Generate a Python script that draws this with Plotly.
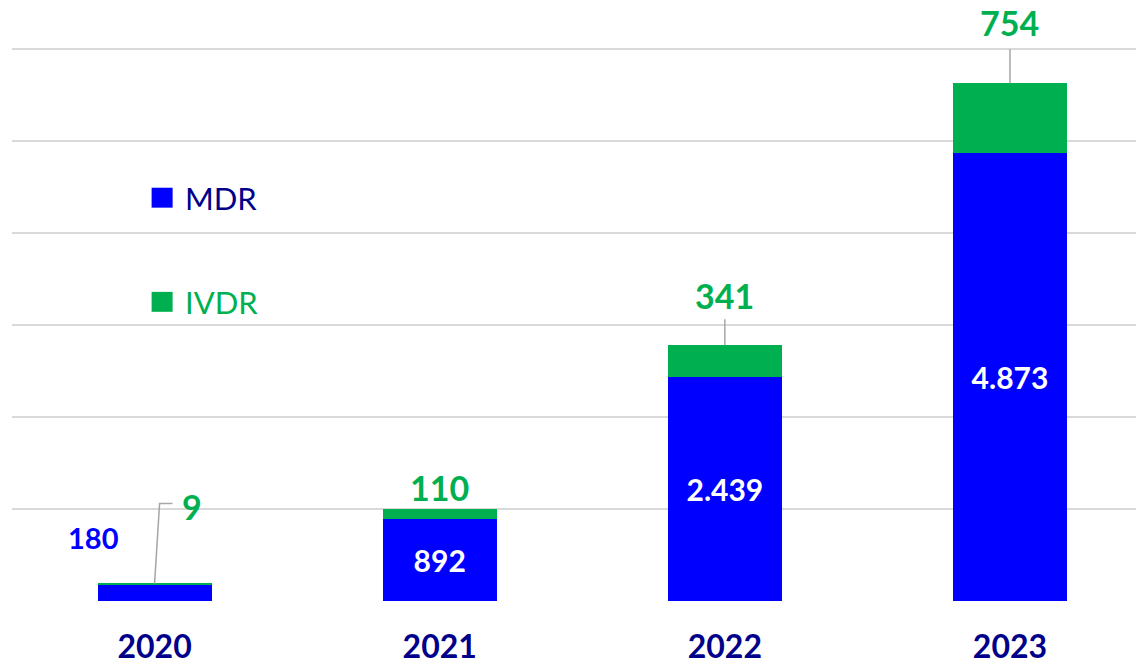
import plotly.graph_objects as go

years = ["2020", "2021", "2022", "2023"]
mdr = [180, 892, 2439, 4873]
ivdr = [9, 110, 341, 754]

BLUE = "#0000FF"
GREEN = "#00B050"
NAVY = "#00008B"
GRAY = "#A6A6A6"
FONT = "Lato"

def fmt(v):
    return f"{v:,}".replace(",", ".")

xs = list(range(len(years)))
totals = [a + b for a, b in zip(mdr, ivdr)]

mdr_text = ["" if i == 0 else fmt(v) for i, v in enumerate(mdr)]

fig = go.Figure()
fig.add_trace(go.Bar(
    x=xs, y=mdr, name="MDR", marker=dict(color=BLUE, line=dict(width=0)),
    text=mdr_text, textposition="inside", insidetextanchor="middle",
    textfont=dict(family=FONT, size=30, color="white", weight="bold"),
    textangle=0, hoverinfo="skip",
))
fig.add_trace(go.Bar(
    x=xs, y=ivdr, name="IVDR", marker=dict(color=GREEN, line=dict(width=0)),
    hoverinfo="skip",
))

annotations = []
shapes = []

# IVDR value labels (pixel offsets from stack tops)
ivdr_offsets = [(37, 77), (0, 21), (0, 50), (0, 61)]
for i, (dx, dy) in enumerate(ivdr_offsets):
    annotations.append(dict(
        x=xs[i], y=totals[i], xref="x", yref="y", text=fmt(ivdr[i]),
        showarrow=False, xshift=dx, yshift=dy,
        font=dict(family=FONT, size=34, color=GREEN, weight="bold"),
    ))

# MDR 2020 label outside left
annotations.append(dict(
    x=xs[0], y=mdr[0], xref="x", yref="y", text=fmt(mdr[0]),
    showarrow=False, xshift=-61, yshift=47,
    font=dict(family=FONT, size=29, color=BLUE, weight="bold"),
))

# leader lines
shapes.append(dict(type="path", xref="x", yref="y", xsizemode="pixel", ysizemode="pixel",
                   xanchor=xs[0], yanchor=totals[0], path="M0,0 L5,80 L18,80",
                   line=dict(color=GRAY, width=1.5)))
shapes.append(dict(type="line", xref="x", yref="y", xsizemode="pixel", ysizemode="pixel",
                   xanchor=xs[2], yanchor=totals[2], x0=0, x1=0, y0=0, y1=26,
                   line=dict(color=GRAY, width=1.5)))
shapes.append(dict(type="line", xref="x", yref="y", xsizemode="pixel", ysizemode="pixel",
                   xanchor=xs[3], yanchor=totals[3], x0=0, x1=0, y0=0, y1=34,
                   line=dict(color=GRAY, width=1.5)))

# manual legend
legend_items = [("MDR", BLUE, NAVY, 0.728), ("IVDR", GREEN, GREEN, 0.540)]
for name, col, tcol, yc in legend_items:
    shapes.append(dict(type="rect", xref="paper", yref="paper",
                       x0=0.1242, x1=0.1429, y0=yc - 0.018, y1=yc + 0.018,
                       fillcolor=col, line=dict(width=0)))
    annotations.append(dict(x=0.1518, y=yc, xref="paper", yref="paper", text=name,
                            showarrow=False, xanchor="left", yanchor="middle",
                            font=dict(family=FONT, size=31, color=tcol)))

fig.update_layout(
    barmode="stack",
    bargap=0.6,
    width=1136, height=665,
    margin=dict(l=12, r=0, t=47, b=64, autoexpand=False),
    paper_bgcolor="white", plot_bgcolor="white",
    showlegend=False,
    annotations=annotations,
    shapes=shapes,
    xaxis=dict(
        range=[-0.5, 3.442], tickvals=xs, ticktext=years,
        showgrid=False, zeroline=False, showline=False, ticks="",
        tickfont=dict(family=FONT, size=32, color=NAVY, weight="bold"),
        ticklabelstandoff=24, fixedrange=True, automargin=False,
    ),
    yaxis=dict(
        range=[0, 6020], tickvals=[0, 1000, 2000, 3000, 4000, 5000, 6000],
        showticklabels=False,
        showgrid=True, gridcolor="#D9D9D9", gridwidth=1.5,
        zeroline=False, showline=False, fixedrange=True, automargin=False,
    ),
)

fig.write_html(
    "out.html",
    config={"displayModeBar": False},
    post_script="document.body.style.margin='0';document.body.style.overflow='hidden';",
)
